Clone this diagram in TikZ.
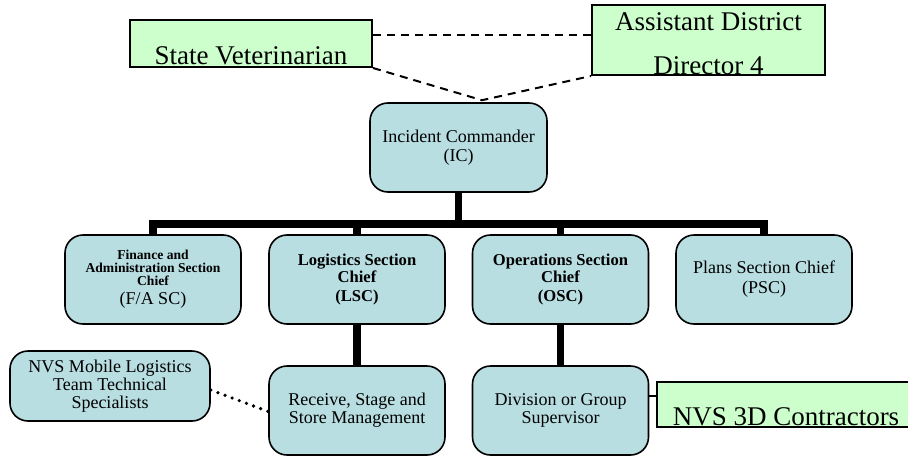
\documentclass[tikz,border=0pt]{standalone}
\usepackage{fontspec}
\setmainfont{Liberation Serif}
\usetikzlibrary{calc}
\tikzset{line cap=round,line join=round}
\definecolor{icsblue}{HTML}{B8DEE2}
\definecolor{icsgreen}{HTML}{CCFFCC}
\tikzset{
  post/.style={draw=black,line width=0.8pt,fill=icsblue,rounded corners=9pt,
    inner sep=0pt,minimum width=88pt,minimum height=44.5pt,align=center,
    font=\fontsize{9}{9}\selectfont},
  boldpost/.style={post,font=\fontsize{8.3}{7.6}\selectfont\bfseries},
  guest/.style={draw=black,line width=1pt,fill=icsgreen,inner sep=0pt,
    font=\fontsize{13.5}{22}\selectfont},
  tree/.style={line width=3.6pt,line cap=butt,line join=miter},
  liaison/.style={line width=1pt,dash pattern=on 4pt off 3pt,line cap=butt},
  advisory/.style={line width=1.8pt,dash pattern=on 0pt off 3.8pt,line cap=round},
}

\begin{document}
\begin{tikzpicture}[x=0.5pt,y=0.5pt]
    \useasboundingbox (0,0) rectangle (908,456);
    \node[name=IC,post,minimum width=88.5pt] at (458.5,308.5) {Incident Commander\\[0.5pt](IC)};
    \node[name=FA,post,font=\fontsize{6.8}{6.5}\selectfont\bfseries] at (153,176.5)
        {Finance and\\Administration Section\\Chief\\[3pt]\fontsize{9}{9}\selectfont\mdseries(F/A SC)};
    \node[name=LSC,boldpost] at (357,176.5) {Logistics Section\\Chief\\[2pt](LSC)};
    \node[name=OSC,boldpost] at (560.5,176.5) {Operations Section\\Chief\\[2pt](OSC)};
    \node[name=PSC,post] at (764,176.5) {Plans Section Chief\\[1pt](PSC)};
    \node[name=NVSM,post,minimum width=100pt,minimum height=35pt] at (110,70) {NVS Mobile Logistics\\Team Technical\\Specialists};
    \node[name=RSM,post] at (357,45.5) {Receive, Stage and\\Store Management};
    \node[name=DGS,post] at (560.5,45.5) {Division or Group\\Supervisor};
    % green boxes, text sits on the lower edge
    \node[name=SV,guest,minimum width=121pt,text height=22.5pt,text depth=1pt] at (251,412.5) {State Veterinarian};
    \node[name=ADD,guest,minimum width=116.5pt,text height=35pt,text depth=-1pt,align=center] at (708.5,416) {Assistant District\\Director 4};
    \node[name=NVS3D,guest,minimum width=129pt,text height=21.5pt,text depth=1pt] at (786,51.5) {NVS 3D Contractors};
    % liaison lines
    \coordinate (apex) at ([xshift=11.75pt,yshift=1pt]IC.north);
    \draw[liaison] ([yshift=4pt]SV.east) -- ([yshift=2.25pt]ADD.west);
    \draw[liaison] (SV.south east) -- (apex) -- (ADD.south west);
    % chain of command
    \coordinate (bar) at (458.5,232);
    \draw[tree] (IC.south) -- (bar);
    \draw[tree] ([xshift=-1.8pt]FA.north |- bar) -- ([xshift=1.8pt]PSC.north |- bar);
    \foreach \s in {FA,LSC,OSC,PSC}{\draw[tree] (\s.north |- bar) -- (\s.north);}
    \draw[tree] (LSC.south) -- (RSM.north);
    \draw[tree] (OSC.south) -- (DGS.north);
    \draw[advisory] ([yshift=-2pt]NVSM.east) -- ([yshift=-0.5pt]RSM.west);
    \draw[line width=0.6pt] ([yshift=7.25pt]DGS.east) -- ([yshift=7.25pt]DGS.east -| NVS3D.west);
\end{tikzpicture}
\end{document}
